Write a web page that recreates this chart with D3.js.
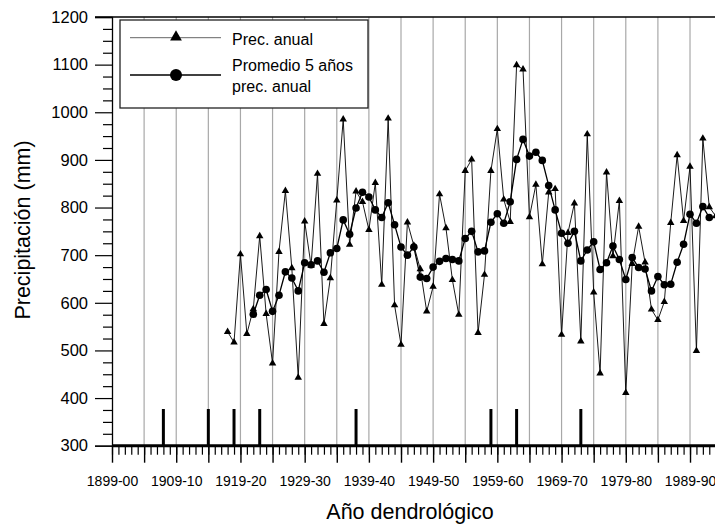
<!DOCTYPE html>
<html><head><meta charset="utf-8">
<script src="https://cdn.jsdelivr.net/npm/d3@7/dist/d3.min.js"></script>
<style>body{margin:0;background:#fff}svg{display:block}</style>
</head><body>
<svg id="chart" width="715" height="525"></svg>
<script>
// ---------- DATA ----------
const annualYears = [1917,1918,1919,1920,1921,1922,1923,1924,1925,1926,1927,1928,1929,1930,1931,1932,1933,1934,1935,1936,1937,1938,1939,1940,1941,1942,1943,1944,1945,1946,1947,1948,1949,1950,1951,1952,1953,1954,1955,1956,1957,1958,1959,1960,1961,1962,1963,1964,1965,1966,1967,1968,1969,1970,1971,1972,1973,1974,1975,1976,1977,1978,1979,1980,1981,1982,1983,1984,1985,1986,1987,1988,1989,1990,1991,1992,1993];
const annualValues = [539,517,702,535,587,740,577,473,707,835,673,443,771,678,871,556,652,815,985,722,834,812,753,852,638,987,595,512,769,720,671,582,634,828,757,648,575,877,901,537,659,877,965,817,770,1099,1090,780,848,681,832,839,533,747,809,519,954,622,452,874,698,814,411,682,760,685,586,564,602,768,910,772,886,499,945,801,782];

const avgYears = [1921,1922,1923,1924,1925,1926,1927,1928,1929,1930,1931,1932,1933,1934,1935,1936,1937,1938,1939,1940,1941,1942,1943,1944,1945,1946,1947,1948,1949,1950,1951,1952,1953,1954,1955,1956,1957,1958,1959,1960,1961,1962,1963,1964,1965,1966,1967,1968,1969,1970,1971,1972,1973,1974,1975,1976,1977,1978,1979,1980,1981,1982,1983,1984,1985,1986,1987,1988,1989,1990,1991,1992];
const avgValues = [576,616,628,582,616,665,652,625,684,680,688,664,705,714,774,744,799,832,822,795,779,810,764,717,700,717,654,651,675,687,693,691,688,735,750,707,709,769,787,767,812,901,943,908,916,899,846,795,746,725,750,688,711,728,670,684,719,691,649,695,674,671,625,655,638,639,685,723,786,767,802,779];

const eventYears = [1907,1914,1918,1922,1937,1958,1962,1972];
const eventTop = 377;

const xTickYears = [1899,1909,1919,1929,1939,1949,1959,1969,1979,1989];
const xTickLabels = ["1899-00","1909-10","1919-20","1929-30","1939-40","1949-50","1959-60","1969-70","1979-80","1989-90"];
const yTickValues = [300,400,500,600,700,800,900,1000,1100,1200];
const yTickLabels = ["300","400","500","600","700","800","900","1000","1100","1200"];

const legendLabels = [["Prec. anual"],["Promedio 5 años","prec. anual"]];
const xTitle = "Año dendrológico";
const yTitle = "Precipitación (mm)";

// ---------- DRAW ----------
const FONT = "'Liberation Sans', Arial, Helvetica, sans-serif";
const svg = d3.select("#chart");
const x = d3.scaleLinear().domain([1899, 1993]).range([112, 715.7]);
const y = d3.scaleLinear().domain([300, 1200]).range([445.7, 17]);
const x0 = x(1899), yTop = y(1200), yBot = y(300);

// vertical grid lines every 5 years
const gridYears = d3.range(1904, 1994, 5);
svg.append("g").selectAll("line").data(gridYears).join("line")
  .attr("x1", d => x(d)).attr("x2", d => x(d))
  .attr("y1", yTop).attr("y2", yBot)
  .attr("stroke", "#a8a8a8").attr("stroke-width", 1.2);

// legend box (white, over grid)
const lg = svg.append("g");
lg.append("rect").attr("x", 120).attr("y", 20).attr("width", 248).attr("height", 88)
  .attr("fill", "#fff").attr("stroke", "#222").attr("stroke-width", 1.3);
lg.append("line").attr("x1", 130).attr("x2", 221).attr("y1", 37.7).attr("y2", 37.7)
  .attr("stroke", "#666").attr("stroke-width", 1);
lg.append("path").attr("d", d3.symbol(d3.symbolTriangle, 60)())
  .attr("transform", "translate(176,37)").attr("fill", "#000");
lg.append("line").attr("x1", 130).attr("x2", 221).attr("y1", 75).attr("y2", 75)
  .attr("stroke", "#000").attr("stroke-width", 1.3);
lg.append("circle").attr("cx", 176).attr("cy", 75).attr("r", 6).attr("fill", "#000");
const lt = lg.append("g").attr("font-family", FONT).attr("font-size", 16).attr("fill", "#000");
lt.append("text").attr("x", 232).attr("y", 45).text(legendLabels[0][0]);
lt.append("text").attr("x", 232).attr("y", 71).text(legendLabels[1][0]);
lt.append("text").attr("x", 232).attr("y", 92).text(legendLabels[1][1]);

// annual series
const annual = annualYears.map((yr, i) => ({yr, v: annualValues[i]}));
const avg = avgYears.map((yr, i) => ({yr, v: avgValues[i]}));
const line = d3.line().x(d => x(d.yr)).y(d => y(d.v));
svg.append("path").datum(annual).attr("d", line)
  .attr("fill", "none").attr("stroke", "#000").attr("stroke-width", 0.9);
svg.append("g").selectAll("path").data(annual).join("path")
  .attr("d", d3.symbol(d3.symbolTriangle, 24)())
  .attr("transform", d => `translate(${x(d.yr)},${y(d.v)})`).attr("fill", "#000");

// 5-year average
svg.append("path").datum(avg).attr("d", line)
  .attr("fill", "none").attr("stroke", "#000").attr("stroke-width", 1.3);
svg.append("g").selectAll("circle").data(avg).join("circle")
  .attr("cx", d => x(d.yr)).attr("cy", d => y(d.v)).attr("r", 3.8).attr("fill", "#000");

// event bars
svg.append("g").selectAll("line").data(eventYears).join("line")
  .attr("x1", d => x(d)).attr("x2", d => x(d))
  .attr("y1", yBot).attr("y2", y(eventTop))
  .attr("stroke", "#000").attr("stroke-width", 3);

// top frame line
svg.append("line").attr("x1", 95).attr("x2", 715).attr("y1", yTop).attr("y2", yTop)
  .attr("stroke", "#000").attr("stroke-width", 1.3);

// y axis
const yMinor = svg.append("g").attr("transform", `translate(${x0},0)`)
  .call(d3.axisLeft(y).tickValues(d3.range(325, 1200, 25).filter(v => v % 100 !== 0)).tickSize(9).tickFormat(""));
yMinor.select(".domain").remove();
const yAx = svg.append("g").attr("transform", `translate(${x0},0)`)
  .call(d3.axisLeft(y).tickValues(yTickValues).tickSize(17).tickPadding(7)
    .tickFormat((d, i) => yTickLabels[i]));
yAx.select(".domain").attr("stroke-width", 1.3);
svg.selectAll("g.tick line").attr("stroke-width", 1.2);
yAx.selectAll("text").attr("font-family", FONT).attr("font-size", 16.5).attr("fill", "#000");

// x axis
const xMinor = svg.append("g").attr("transform", `translate(0,${yBot})`)
  .call(d3.axisBottom(x).tickValues(d3.range(1899, 1994, 1)).tickSize(9).tickFormat(""));
xMinor.select(".domain").remove();
xMinor.selectAll("line").attr("stroke-width", 1.2);
const xAx = svg.append("g").attr("transform", `translate(0,${yBot})`)
  .call(d3.axisBottom(x).tickValues(d3.range(1899, 1994, 5)).tickSize(17).tickPadding(13)
    .tickFormat(d => { const k = xTickYears.indexOf(d); return k >= 0 ? xTickLabels[k] : ""; }));
xAx.select(".domain").attr("stroke-width", 3).attr("d", `M${x0},0H715`);
xAx.selectAll("line").attr("stroke-width", 1.4);
xAx.selectAll("text").attr("font-family", FONT).attr("font-size", 14).attr("fill", "#000");

// titles
svg.append("text").attr("x", 410).attr("y", 519).attr("text-anchor", "middle")
  .attr("font-family", FONT).attr("font-size", 21.5).attr("fill", "#000").text(xTitle);
svg.append("text").attr("transform", "translate(30,230) rotate(-90)").attr("text-anchor", "middle")
  .attr("font-family", FONT).attr("font-size", 21.5).attr("fill", "#000").text(yTitle);
</script>
</body></html>
